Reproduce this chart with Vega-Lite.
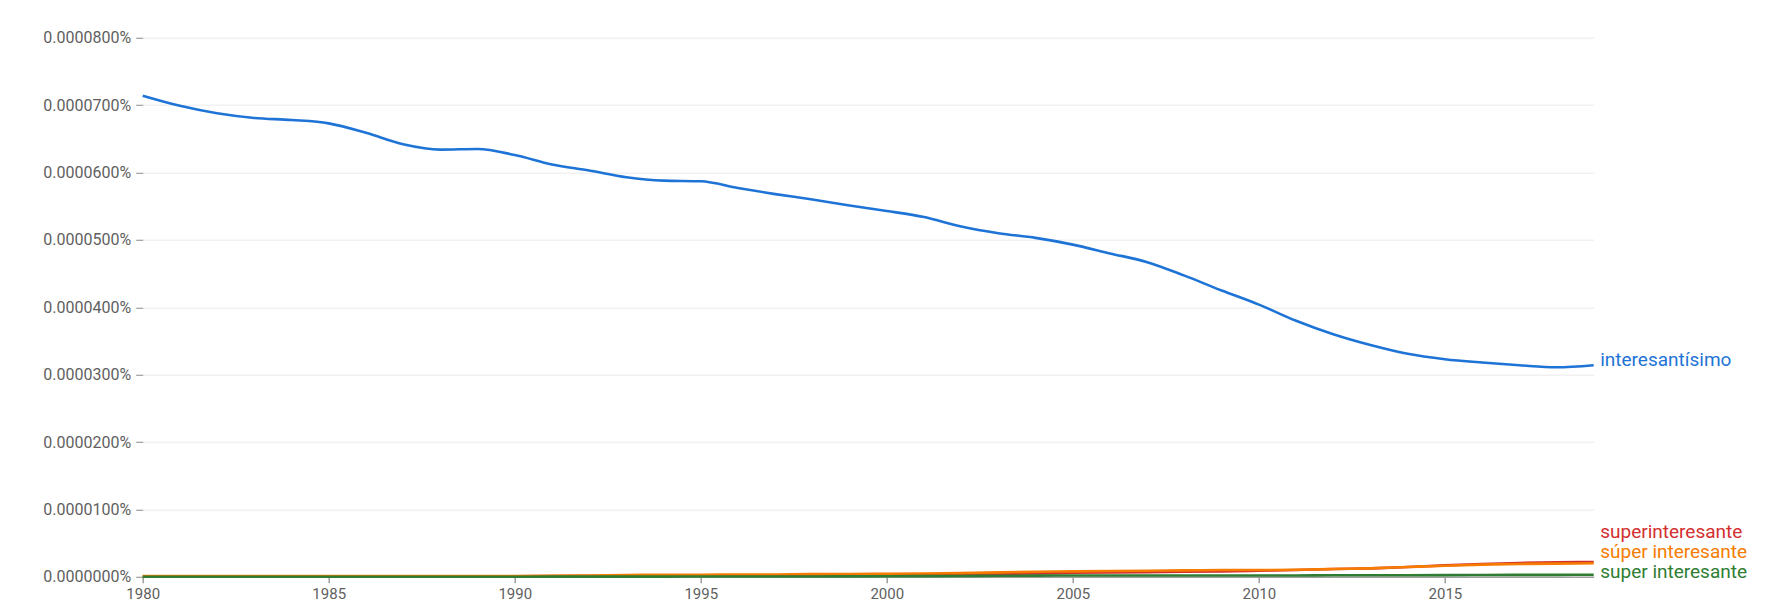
{
  "$schema": "https://vega.github.io/schema/vega-lite/v6.json",
  "width": 1451,
  "height": 539,
  "autosize": {"type": "none"},
  "padding": {"left": 142.7, "top": 37.8, "right": 193.3, "bottom": 30.2},
  "background": "#ffffff",
  "config": {
    "font": "Roboto",
    "view": {"stroke": null},
    "axis": {"labelFont": "Roboto", "labelColor": "#5f5f5f", "tickColor": "#9e9e9e", "domainColor": "#9e9e9e"}
  },
  "data": {
    "values": [
      {"year": 1980, "interesantísimo": 7.14e-5, "superinteresante": 5e-8, "súper interesante": 1e-7, "super interesante": 0},
      {"year": 1981, "interesantísimo": 6.99e-5, "superinteresante": 5e-8, "súper interesante": 1e-7, "super interesante": 0},
      {"year": 1982, "interesantísimo": 6.88e-5, "superinteresante": 5e-8, "súper interesante": 1e-7, "super interesante": 0},
      {"year": 1983, "interesantísimo": 6.81e-5, "superinteresante": 5e-8, "súper interesante": 1e-7, "super interesante": 0},
      {"year": 1984, "interesantísimo": 6.78e-5, "superinteresante": 5e-8, "súper interesante": 1e-7, "super interesante": 0},
      {"year": 1985, "interesantísimo": 6.73e-5, "superinteresante": 5e-8, "súper interesante": 1e-7, "super interesante": 0},
      {"year": 1986, "interesantísimo": 6.59e-5, "superinteresante": 5e-8, "súper interesante": 1e-7, "super interesante": 0},
      {"year": 1987, "interesantísimo": 6.42e-5, "superinteresante": 5e-8, "súper interesante": 1e-7, "super interesante": 0},
      {"year": 1988, "interesantísimo": 6.34e-5, "superinteresante": 5e-8, "súper interesante": 1e-7, "super interesante": 0},
      {"year": 1989, "interesantísimo": 6.35e-5, "superinteresante": 5e-8, "súper interesante": 1e-7, "super interesante": 0},
      {"year": 1990, "interesantísimo": 6.26e-5, "superinteresante": 8e-8, "súper interesante": 1.2e-7, "super interesante": 0},
      {"year": 1991, "interesantísimo": 6.12e-5, "superinteresante": 1e-7, "súper interesante": 1.5e-7, "super interesante": 2e-8},
      {"year": 1992, "interesantísimo": 6.03e-5, "superinteresante": 1.2e-7, "súper interesante": 2e-7, "super interesante": 2e-8},
      {"year": 1993, "interesantísimo": 5.93e-5, "superinteresante": 1.4e-7, "súper interesante": 2.5e-7, "super interesante": 3e-8},
      {"year": 1994, "interesantísimo": 5.88e-5, "superinteresante": 1.5e-7, "súper interesante": 3e-7, "super interesante": 3e-8},
      {"year": 1995, "interesantísimo": 5.87e-5, "superinteresante": 1.6e-7, "súper interesante": 3e-7, "super interesante": 4e-8},
      {"year": 1996, "interesantísimo": 5.77e-5, "superinteresante": 1.8e-7, "súper interesante": 3.5e-7, "super interesante": 4e-8},
      {"year": 1997, "interesantísimo": 5.68e-5, "superinteresante": 2e-7, "súper interesante": 3.5e-7, "super interesante": 5e-8},
      {"year": 1998, "interesantísimo": 5.60e-5, "superinteresante": 2.2e-7, "súper interesante": 4e-7, "super interesante": 5e-8},
      {"year": 1999, "interesantísimo": 5.51e-5, "superinteresante": 2.4e-7, "súper interesante": 4e-7, "super interesante": 6e-8},
      {"year": 2000, "interesantísimo": 5.43e-5, "superinteresante": 2.6e-7, "súper interesante": 4.5e-7, "super interesante": 8e-8},
      {"year": 2001, "interesantísimo": 5.34e-5, "superinteresante": 3e-7, "súper interesante": 5e-7, "super interesante": 1e-7},
      {"year": 2002, "interesantísimo": 5.20e-5, "superinteresante": 3.5e-7, "súper interesante": 5.5e-7, "super interesante": 1.2e-7},
      {"year": 2003, "interesantísimo": 5.10e-5, "superinteresante": 4.5e-7, "súper interesante": 6.5e-7, "super interesante": 1.5e-7},
      {"year": 2004, "interesantísimo": 5.03e-5, "superinteresante": 5e-7, "súper interesante": 7.5e-7, "super interesante": 1.8e-7},
      {"year": 2005, "interesantísimo": 4.93e-5, "superinteresante": 6e-7, "súper interesante": 8e-7, "super interesante": 2e-7},
      {"year": 2006, "interesantísimo": 4.80e-5, "superinteresante": 6.5e-7, "súper interesante": 8.5e-7, "super interesante": 2e-7},
      {"year": 2007, "interesantísimo": 4.67e-5, "superinteresante": 7e-7, "súper interesante": 9e-7, "super interesante": 2e-7},
      {"year": 2008, "interesantísimo": 4.47e-5, "superinteresante": 7.5e-7, "súper interesante": 9.5e-7, "super interesante": 2e-7},
      {"year": 2009, "interesantísimo": 4.25e-5, "superinteresante": 8e-7, "súper interesante": 1e-6, "super interesante": 2e-7},
      {"year": 2010, "interesantísimo": 4.04e-5, "superinteresante": 9e-7, "súper interesante": 1e-6, "super interesante": 2e-7},
      {"year": 2011, "interesantísimo": 3.80e-5, "superinteresante": 1e-6, "súper interesante": 1.05e-6, "super interesante": 2e-7},
      {"year": 2012, "interesantísimo": 3.60e-5, "superinteresante": 1.15e-6, "súper interesante": 1.15e-6, "super interesante": 2.2e-7},
      {"year": 2013, "interesantísimo": 3.44e-5, "superinteresante": 1.25e-6, "súper interesante": 1.25e-6, "super interesante": 2.2e-7},
      {"year": 2014, "interesantísimo": 3.31e-5, "superinteresante": 1.45e-6, "súper interesante": 1.45e-6, "super interesante": 2.4e-7},
      {"year": 2015, "interesantísimo": 3.23e-5, "superinteresante": 1.7e-6, "súper interesante": 1.65e-6, "super interesante": 2.5e-7},
      {"year": 2016, "interesantísimo": 3.18e-5, "superinteresante": 1.9e-6, "súper interesante": 1.8e-6, "super interesante": 2.6e-7},
      {"year": 2017, "interesantísimo": 3.14e-5, "superinteresante": 2.05e-6, "súper interesante": 1.9e-6, "super interesante": 2.8e-7},
      {"year": 2018, "interesantísimo": 3.11e-5, "superinteresante": 2.15e-6, "súper interesante": 1.95e-6, "super interesante": 2.9e-7},
      {"year": 2019, "interesantísimo": 3.14e-5, "superinteresante": 2.2e-6, "súper interesante": 2e-6, "super interesante": 3e-7}
    ]
  },
  "transform": [
    {"fold": ["interesantísimo", "superinteresante", "súper interesante", "super interesante"], "as": ["term", "value"]}
  ],
  "encoding": {
    "x": {
      "field": "year",
      "type": "quantitative",
      "scale": {"domain": [1980, 2019], "nice": false, "zero": false},
      "axis": {
        "title": null,
        "values": [1980, 1985, 1990, 1995, 2000, 2005, 2010, 2015],
        "format": "d",
        "grid": false,
        "labelFlush": false,
        "labelFontSize": 15,
        "labelPadding": 4,
        "tickSize": 6,
        "tickWidth": 1.5,
        "domainWidth": 1.5
      }
    },
    "y": {
      "field": "value",
      "type": "quantitative",
      "scale": {"domain": [0, 8e-5], "nice": false, "zero": true},
      "axis": {
        "title": null,
        "values": [0, 1e-5, 2e-5, 3e-5, 4e-5, 5e-5, 6e-5, 7e-5, 8e-5],
        "labelExpr": "format(datum.value, '.7f') + '%'",
        "domain": false,
        "grid": true,
        "gridColor": "#f1f1f1",
        "gridWidth": 1.5,
        "labelFontSize": 16,
        "labelPadding": 5,
        "tickSize": 7,
        "tickWidth": 1.2
      }
    },
    "color": {
      "field": "term",
      "type": "nominal",
      "legend": null,
      "scale": {
        "domain": ["interesantísimo", "superinteresante", "súper interesante", "super interesante"],
        "range": ["#1e74d6", "#d32f2f", "#f57c00", "#2e7d32"]
      }
    }
  },
  "layer": [
    {
      "mark": {"type": "line", "strokeWidth": 2.6, "interpolate": "monotone"}
    },
    {
      "transform": [{"filter": "datum.year == 2019 && datum.term == 'interesantísimo'"}],
      "mark": {"type": "text", "align": "left", "baseline": "middle", "dx": 6.5, "dy": -5, "fontSize": 19, "font": "Roboto"},
      "encoding": {"text": {"field": "term"}}
    },
    {
      "transform": [{"filter": "datum.year == 2019 && datum.term == 'superinteresante'"}],
      "mark": {"type": "text", "align": "left", "baseline": "middle", "dx": 6.5, "dy": -29.5, "fontSize": 19, "font": "Roboto"},
      "encoding": {"text": {"field": "term"}}
    },
    {
      "transform": [{"filter": "datum.year == 2019 && datum.term == 'súper interesante'"}],
      "mark": {"type": "text", "align": "left", "baseline": "middle", "dx": 6.5, "dy": -11.2, "fontSize": 19, "font": "Roboto"},
      "encoding": {"text": {"field": "term"}}
    },
    {
      "transform": [{"filter": "datum.year == 2019 && datum.term == 'super interesante'"}],
      "mark": {"type": "text", "align": "left", "baseline": "middle", "dx": 6.5, "dy": -2.7, "fontSize": 19, "font": "Roboto"},
      "encoding": {"text": {"field": "term"}}
    }
  ]
}
